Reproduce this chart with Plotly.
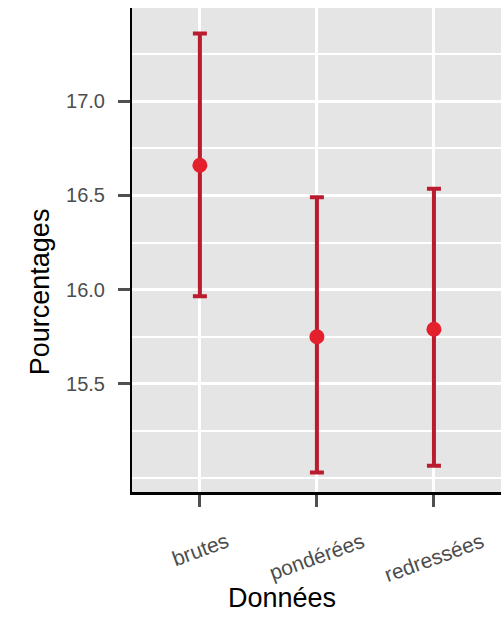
import plotly.graph_objects as go

categories = ["brutes", "pondérées", "redressées"]
means = [16.66, 15.75, 15.79]
upper = [17.36, 16.49, 16.535]
lower = [15.965, 15.03, 15.065]

err_plus = [u - m for u, m in zip(upper, means)]
err_minus = [m - l for m, l in zip(means, lower)]

fig = go.Figure()
fig.add_trace(go.Scatter(
    x=categories, y=means, mode="markers",
    marker=dict(color="#E3202C", size=15),
    error_y=dict(type="data", symmetric=False, array=err_plus, arrayminus=err_minus,
                 color="#B91C2E", thickness=4, width=7),
    showlegend=False,
))

font = "Liberation Sans, Arial, sans-serif"
fig.update_layout(
    width=501, height=617,
    margin=dict(l=132, r=0, t=8, b=125),
    paper_bgcolor="white", plot_bgcolor="#E5E5E5",
    font=dict(family=font),
    xaxis=dict(range=[-0.58, 2.573], showgrid=True, gridcolor="white", gridwidth=3,
               showline=True, linecolor="black", linewidth=3,
               ticks="outside", ticklen=12, tickwidth=2.5, tickcolor="#505050",
               showticklabels=False, zeroline=False),
    yaxis=dict(range=[14.926, 17.495], tickvals=[15.5, 16.0, 16.5, 17.0],
               ticktext=["15.5", "16.0", "16.5", "17.0"],
               showgrid=True, gridcolor="white", gridwidth=3,
               minor=dict(tickvals=[15.0, 15.25, 15.75, 16.25, 16.75, 17.25],
                          showgrid=True, gridcolor="white", gridwidth=1.5, ticks=""),
               showline=True, linecolor="black", linewidth=2,
               ticks="outside", ticklen=12, tickwidth=2.5, tickcolor="#505050",
               ticklabelstandoff=9,
               tickfont=dict(size=20, color="#4D4D4D"), zeroline=False),
)

for c in categories:
    fig.add_annotation(x=c, y=0, xref="x", yref="paper", text=c, showarrow=False,
                       textangle=-20, yanchor="top", xanchor="center", yshift=-34,
                       font=dict(size=21, color="#4D4D4D"))

fig.add_annotation(x=0.4065, y=0, xref="paper", yref="paper", text="Données",
                   showarrow=False, yanchor="middle", yshift=-106,
                   font=dict(size=27, color="black"))
fig.add_annotation(x=-0.249, y=0.413, xref="paper", yref="paper", text="Pourcentages",
                   showarrow=False, textangle=-90, xanchor="center", yanchor="middle",
                   font=dict(size=27, color="black"))

fig.write_html("out.html", config={"displayModeBar": False},
               post_script="document.body.style.margin='0';")
